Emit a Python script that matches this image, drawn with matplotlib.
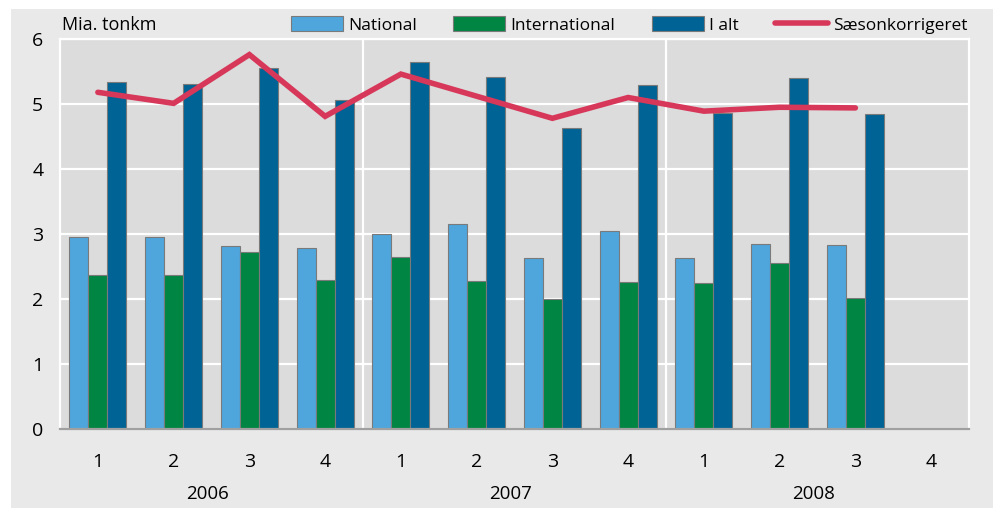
import matplotlib.pyplot as plt
import matplotlib.patches as mpatches
from matplotlib.lines import Line2D
import numpy as np

# data
years = ["2006", "2007", "2008"]
quarters = ["1", "2", "3", "4"] * 3
national = [2.95, 2.95, 2.81, 2.78, 3.00, 3.15, 2.63, 3.04, 2.63, 2.85, 2.83]
international = [2.37, 2.37, 2.73, 2.29, 2.65, 2.28, 2.00, 2.26, 2.24, 2.55, 2.02]
i_alt = [5.34, 5.31, 5.55, 5.06, 5.65, 5.42, 4.63, 5.29, 4.86, 5.40, 4.84]
saeson = [5.18, 5.01, 5.76, 4.81, 5.46, 5.12, 4.78, 5.10, 4.89, 4.95, 4.94]

c_nat = "#4ea6dd"
c_int = "#008542"
c_alt = "#006395"
c_line = "#d7385a"
edge = "#7a7a7a"

plt.rcParams['font.family'] = ['Open Sans', 'DejaVu Sans']

fig = plt.figure(figsize=(9.98, 5.08), dpi=100)
fig.patch.set_facecolor("white")
# grey panel behind everything
fig.patches.append(mpatches.Rectangle((11 / 998, 0), (993 - 11) / 998, 1 - 9 / 508,
                                      transform=fig.transFigure, facecolor="#e9e9e9",
                                      edgecolor="none", zorder=-10))

ax = fig.add_axes([60 / 998, 79 / 508, 909 / 998, 390 / 508])
ax.set_facecolor("#dcdcdc")

x = np.arange(len(national))
w = 0.25
ax.bar(x - w, national, w, color=c_nat, edgecolor=edge, linewidth=0.8, zorder=3)
ax.bar(x, international, w, color=c_int, edgecolor=edge, linewidth=0.8, zorder=3)
ax.bar(x + w, i_alt, w, color=c_alt, edgecolor=edge, linewidth=0.8, zorder=3)
ax.plot(x, saeson, color=c_line, linewidth=4, solid_capstyle="round",
        solid_joinstyle="miter", zorder=4)

ax.set_xlim(-0.5, 11.5)
ax.set_ylim(0, 6)
ax.set_yticks(range(7))
ax.yaxis.grid(True, color="white", linewidth=1.6, zorder=1)
for b in [3.5, 7.5]:
    ax.axvline(b, color="white", linewidth=1.6, zorder=1)

for s in ["top", "right", "left"]:
    ax.spines[s].set_color("white")
    ax.spines[s].set_linewidth(1.6)
ax.spines["bottom"].set_color("#a0a0a0")
ax.spines["bottom"].set_linewidth(1.6)
ax.spines["bottom"].set_zorder(5)

ax.set_xticks(range(12))
ax.set_xticklabels(quarters)
ax.tick_params(axis="both", length=0, labelsize=14)
ax.tick_params(axis="x", pad=17)
ax.tick_params(axis="y", pad=12)

for i, yr in enumerate(years):
    ax.text(4 * i + 1.45, -1.0, yr, ha="center", va="center", fontsize=13.5,
            transform=ax.transData, clip_on=False)

fig.text(62 / 998, 1 - 25 / 508, "Mia. tonkm", ha="left", va="center", fontsize=13)

handles = [
    mpatches.Patch(facecolor=c_nat, edgecolor=edge, linewidth=0.8),
    mpatches.Patch(facecolor=c_int, edgecolor=edge, linewidth=0.8),
    mpatches.Patch(facecolor=c_alt, edgecolor=edge, linewidth=0.8),
    Line2D([], [], color=c_line, linewidth=4, solid_capstyle="round"),
]
labels = ["National", "International", "I alt", "Sæsonkorrigeret"]
fig.legend(handles, labels, ncol=4, loc="center", bbox_to_anchor=(629 / 998, 1 - 25 / 508),
           frameon=False, fontsize=12.5, handlelength=3.0, handleheight=0.9,
           handletextpad=0.3, columnspacing=2.1, borderpad=0)

fig.savefig("out.png", dpi=100, facecolor=fig.get_facecolor())
